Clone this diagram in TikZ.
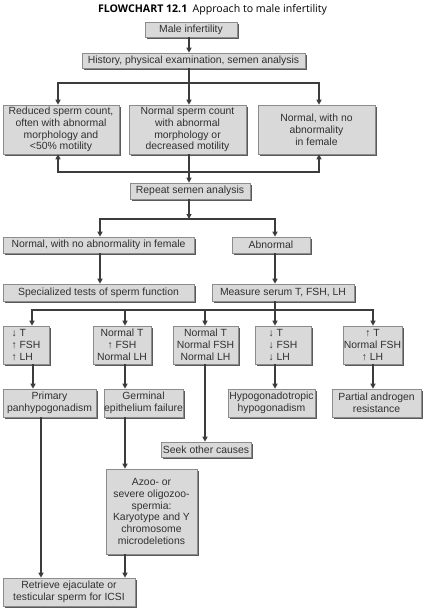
\documentclass[tikz,border=0pt]{standalone}
\usepackage{fontspec}
\setmainfont{Liberation Sans}
\newfontfamily\titlefont{Open Sans}
\usetikzlibrary{arrows.meta,shadows}
\definecolor{boxfill}{HTML}{D9D9D9}
\definecolor{boxline}{HTML}{8C8C8C}
\definecolor{shadowc}{HTML}{5A5A5A}
\definecolor{linec}{HTML}{3C3C3C}
\definecolor{txt}{HTML}{303030}
\tikzset{
  box/.style={draw=boxline, line width=0.6pt, fill=boxfill, inner sep=0pt,
    align=center, text=txt, font=\fontsize{10.4}{11.8}\selectfont,
    drop shadow={shadow xshift=1.8pt, shadow yshift=-1.8pt, fill=shadowc, opacity=1}},
  conn/.style={draw=linec, line width=1.1pt},
  arr/.style={conn, -{Triangle[length=5pt,width=5pt]}},
}
\begin{document}
\begin{tikzpicture}[x=1pt,y=-1pt]
\useasboundingbox (0,0) rectangle (433,608);
\node[text=black, font=\titlefont\fontsize{10.6}{12}\selectfont] (title) at (212.5,10)
  {\textbf{FLOWCHART 12.1}\enspace Approach to male infertility};
% boxes
\node[box, minimum width=92pt, minimum height=15pt] (male) at (191,29.5) {Male infertility};
\node[box, minimum width=223pt, minimum height=15pt] (history) at (193.5,60.5) {History, physical examination, semen analysis};
\node[box, minimum width=116pt, minimum height=49pt] (b1) at (61,129.5) {Reduced sperm count,\\often with abnormal\\morphology and\\<50\% motility};
\node[box, minimum width=117pt, minimum height=49pt] (b2) at (187.5,129.5) {Normal sperm count\\with abnormal\\morphology or\\decreased motility};
\node[box, minimum width=117pt, minimum height=49pt] (b3) at (316.5,129.5) {Normal, with no\\abnormality\\in female};
\node[box, minimum width=120pt, minimum height=16pt] (repeat) at (190,191) {Repeat semen analysis};
\node[box, minimum width=191pt, minimum height=16pt] (normal) at (98.5,245) {Normal, with no abnormality in female};
\node[box, minimum width=78pt, minimum height=16pt] (abnormal) at (271,245) {Abnormal};
\node[box, minimum width=191pt, minimum height=17pt] (spec) at (98.5,292.5) {Specialized tests of sperm function};
\node[box, minimum width=142pt, minimum height=17pt] (measure) at (283,292.5) {Measure serum T, FSH, LH};
\node[box, align=left, minimum width=46pt, minimum height=38pt] (ha) at (26,345) {↓ T\\↑ FSH\\↑ LH};
\node[box, minimum width=58pt, minimum height=38pt] (hb) at (122,345) {Normal T\\↑ FSH\\Normal LH};
\node[box, minimum width=65pt, minimum height=38pt] (hc) at (205.5,345) {Normal T\\Normal FSH\\Normal LH};
\node[box, align=left, minimum width=56pt, minimum height=38pt] (hd) at (283,345) {↓ T\\↓ FSH\\↓ LH};
\node[box, minimum width=59pt, minimum height=38pt] (he) at (372.5,345) {↑ T\\Normal FSH\\↑ LH};
\node[box, minimum width=93pt, minimum height=28pt] (primary) at (49.5,403) {Primary\\panhypogonadism};
\node[box, minimum width=75pt, minimum height=28pt] (germinal) at (143.5,403) {Germinal\\epithelium failure};
\node[box, minimum width=87pt, minimum height=28pt] (hypo) at (271.5,403) {Hypogonadotropic\\hypogonadism};
\node[box, minimum width=89pt, minimum height=28pt] (partial) at (376.5,403) {Partial androgen\\resistance};
\node[box, minimum width=90pt, minimum height=15pt] (seek) at (206,449.5) {Seek other causes};
\node[box, minimum width=91pt, minimum height=85pt] (azoo) at (151.5,511.5) {Azoo- or\\severe oligozoo-\\spermia:\\Karyotype and Y\\chromosome\\microdeletions};
\node[box, minimum width=132pt, minimum height=28pt] (retrieve) at (69,592) {Retrieve ejaculate or\\testicular sperm for ICSI};
% helper coordinates
\coordinate (sx) at (189,0);
\coordinate (x58) at (58,0);
\coordinate (x319) at (319,0);
\coordinate (x100) at (100,0);
\coordinate (x275) at (275,0);
\coordinate (x32) at (32,0);
\coordinate (x33) at (33,0);
\coordinate (x41) at (41,0);
\coordinate (x125) at (125,0);
\coordinate (x205) at (205,0);
\coordinate (x373) at (373,0);
\coordinate (j1) at (189,83);
\coordinate (j2) at (189,172);
\coordinate (j3) at (189,219);
\coordinate (j4) at (275,310);
% connectors
\draw[arr] (male.south -| sx) -- (history.north -| sx);
\draw[conn] (history.south -| sx) -- (j1);
\draw[arr] (j1) -| (b1.north -| x58);
\draw[arr] (j1) -- (b2.north -| sx);
\draw[arr] (j1) -| (b3.north -| x319);
\draw[arr] (b2.south -| sx) -- (repeat.north -| sx);
\draw[arr] (j2) -| (b1.south -| x58);
\draw[arr] (j2) -| (b3.south -| x319);
\draw[arr] (repeat.south -| sx) -- (j3);
\draw[arr] (j3) -| (normal.north -| x100);
\draw[arr] (j3) -| (abnormal.north -| x275);
\draw[arr] (normal.south -| x100) -- (spec.north -| x100);
\draw[arr] (abnormal.south -| x275) -- (measure.north -| x275);
\draw[conn] (measure.south -| x275) -- (j4);
\draw[arr] (j4) -| (ha.north -| x32);
\draw[arr] (j4) -| (hb.north -| x125);
\draw[arr] (j4) -| (hc.north -| x205);
\draw[arr] (j4) -- (hd.north -| x275);
\draw[arr] (j4) -| (he.north -| x373);
\draw[arr] (ha.south -| x33) -- (primary.north -| x33);
\draw[arr] (hb.south -| x125) -- (germinal.north -| x125);
\draw[arr] (hc.south -| x205) -- (seek.north -| x205);
\draw[arr] (hd.south -| x275) -- (hypo.north -| x275);
\draw[arr] (he.south -| x373) -- (partial.north -| x373);
\draw[arr] (primary.south -| x41) -- (retrieve.north -| x41);
\draw[arr] (germinal.south -| x125) -- (azoo.north -| x125);
\draw[arr] (azoo.south -| x125) -- (retrieve.north -| x125);
\end{tikzpicture}
\end{document}
